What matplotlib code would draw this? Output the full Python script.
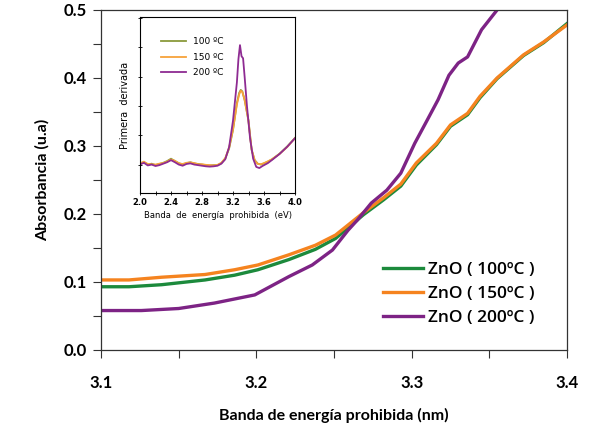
import matplotlib.pyplot as plt
from matplotlib.ticker import MultipleLocator

# main curves: absorbance vs band gap
x_100 = [3.100, 3.118, 3.139, 3.167, 3.186, 3.201, 3.221, 3.238, 3.251, 3.269, 3.282,
         3.293, 3.303, 3.316, 3.325, 3.336, 3.344, 3.355, 3.372, 3.385, 3.400]
a_100 = [0.093, 0.093, 0.096, 0.103, 0.110, 0.118, 0.133, 0.148, 0.164, 0.199, 0.221,
         0.241, 0.272, 0.302, 0.329, 0.346, 0.371, 0.399, 0.433, 0.452, 0.480]
x_150 = [3.100, 3.118, 3.139, 3.167, 3.186, 3.201, 3.221, 3.238, 3.251, 3.269, 3.282,
         3.293, 3.303, 3.316, 3.325, 3.336, 3.344, 3.355, 3.372, 3.385, 3.400]
a_150 = [0.103, 0.103, 0.107, 0.111, 0.118, 0.125, 0.140, 0.154, 0.169, 0.202, 0.224,
         0.244, 0.275, 0.304, 0.331, 0.348, 0.373, 0.400, 0.434, 0.453, 0.478]
x_200 = [3.100, 3.126, 3.150, 3.173, 3.199, 3.221, 3.236, 3.249, 3.259, 3.265, 3.274,
         3.284, 3.293, 3.302, 3.310, 3.317, 3.324, 3.330, 3.336, 3.345, 3.355]
a_200 = [0.058, 0.058, 0.061, 0.069, 0.081, 0.108, 0.125, 0.147, 0.176, 0.191, 0.216,
         0.235, 0.260, 0.304, 0.338, 0.368, 0.404, 0.422, 0.431, 0.471, 0.500]

# inset: first derivative
ix_low = [2.00, 2.05, 2.10, 2.15, 2.20, 2.25, 2.30, 2.35, 2.40, 2.45, 2.50, 2.55, 2.60,
          2.65, 2.70, 2.75, 2.80, 2.85, 2.90, 2.95, 3.00, 3.05, 3.10, 3.15, 3.20, 3.25,
          3.28, 3.30, 3.32, 3.35, 3.40, 3.44, 3.48, 3.52, 3.56, 3.60, 3.65, 3.70, 3.80,
          3.90, 4.00]
d_100 = [0.05, 0.08, 0.00, 0.03, -0.02, 0.02, 0.06, 0.12, 0.20, 0.12, 0.05, 0.00, 0.05,
         0.08, 0.04, 0.02, 0.00, -0.02, -0.03, -0.02, -0.02, 0.05, 0.20, 0.55, 1.18, 2.10,
         2.45, 2.55, 2.50, 2.20, 1.50, 0.50, 0.15, 0.03, 0.00, 0.04, 0.10, 0.17, 0.37,
         0.62, 0.91]
d_150 = [0.03, 0.10, 0.02, 0.01, 0.00, 0.03, 0.05, 0.10, 0.17, 0.13, 0.04, 0.02, 0.06,
         0.07, 0.05, 0.01, 0.01, -0.01, -0.02, -0.03, -0.01, 0.06, 0.22, 0.58, 1.20, 2.05,
         2.40, 2.52, 2.48, 2.22, 1.48, 0.52, 0.14, 0.02, 0.01, 0.05, 0.11, 0.18, 0.36,
         0.60, 0.90]
ix_200 = [2.00, 2.05, 2.10, 2.15, 2.20, 2.25, 2.30, 2.35, 2.40, 2.45, 2.50, 2.55, 2.60,
          2.65, 2.70, 2.75, 2.80, 2.85, 2.90, 2.95, 3.00, 3.05, 3.10, 3.15, 3.20, 3.25,
          3.27, 3.29, 3.31, 3.33, 3.35, 3.38, 3.42, 3.46, 3.50, 3.54, 3.58, 3.65, 3.70,
          3.80, 3.90, 4.00]
d_200 = [0.00, 0.06, -0.03, 0.00, -0.05, -0.02, 0.03, 0.08, 0.15, 0.08, 0.00, -0.04, 0.02,
         0.04, 0.00, -0.02, -0.04, -0.06, -0.07, -0.06, -0.04, 0.03, 0.18, 0.60, 1.50, 2.80,
         3.60, 4.08, 3.70, 3.63, 3.00, 2.00, 0.90, 0.20, -0.08, -0.12, -0.05, 0.05, 0.15,
         0.36, 0.61, 0.90]

bold_font = ['Lato', 'DejaVu Sans']

fig = plt.figure(figsize=(5.9, 4.25), dpi=100)
ax = fig.add_axes([0.1712, 0.1765, 0.7898, 0.8])

ax.plot(x_100, a_100, color='#1c8a3c', lw=2.4, label='ZnO ( 100ºC )')
ax.plot(x_150, a_150, color='#f5831f', lw=2.4, label='ZnO ( 150ºC )')
ax.plot(x_200, a_200, color='#7d2385', lw=2.4, label='ZnO ( 200ºC )')

ax.set_xlim(3.1, 3.4)
ax.set_ylim(0, 0.5)
ax.xaxis.set_major_locator(MultipleLocator(0.1))
ax.xaxis.set_minor_locator(MultipleLocator(0.05))
ax.yaxis.set_major_locator(MultipleLocator(0.1))
ax.yaxis.set_minor_locator(MultipleLocator(0.05))
ax.xaxis.set_major_formatter(lambda v, p: f'{v:.1f}')
ax.yaxis.set_major_formatter(lambda v, p: f'{v:.1f}')
ax.tick_params(which='both', direction='out', length=6, width=0.8, color='#333333')
ax.tick_params(axis='x', pad=12)
ax.tick_params(axis='y', pad=4)
for s in ax.spines.values():
    s.set_color('#333333')
    s.set_linewidth(0.9)
for lab in ax.get_xticklabels() + ax.get_yticklabels():
    lab.set_fontfamily(bold_font)
    lab.set_fontweight('bold')
    lab.set_fontsize(12)
ax.set_xlabel('Banda de energía prohibida (nm)', family=bold_font, fontweight='bold',
              fontsize=11.5, labelpad=12)
ax.set_ylabel('Absorbancia (u.a)', family=bold_font, fontweight='bold', fontsize=11.5,
              labelpad=10)

leg = ax.legend(loc='lower right', bbox_to_anchor=(0.965, 0.025), frameon=False,
                handlelength=2.3, handletextpad=0.3, labelspacing=0.45,
                prop={'family': ['Open Sans', 'DejaVu Sans'], 'size': 12.5, 'weight': 'semibold'})

# inset
ins = fig.add_axes([0.2373, 0.546, 0.2627, 0.414])
ins.plot(ix_low, d_100, color='#8a9a3c', lw=1.3, label='100 ºC')
ins.plot(ix_low, d_150, color='#f7a33a', lw=1.3, label='150 ºC')
ins.plot(ix_200, d_200, color='#8e2b92', lw=1.3, label='200 ºC')
ins.set_xlim(2.0, 4.0)
ins.set_ylim(-0.97, 5.04)
ins.xaxis.set_major_locator(MultipleLocator(0.4))
ins.xaxis.set_minor_locator(MultipleLocator(0.2))
ins.yaxis.set_major_locator(MultipleLocator(1))
ins.set_yticklabels([])
ins.xaxis.set_major_formatter(lambda v, p: f'{v:.1f}')
ins.tick_params(which='both', direction='inout', length=3, width=0.6, labelsize=6, pad=2)
for lab in ins.get_xticklabels():
    lab.set_fontweight('bold')
for s in ins.spines.values():
    s.set_linewidth(0.8)
ins.set_xlabel('Banda  de  energía  prohibida  (eV)', fontsize=6, labelpad=3)
ins.set_ylabel('Primera  derivada', fontsize=7, labelpad=4)
ins.legend(loc='upper left', bbox_to_anchor=(0.08, 0.93), frameon=False, fontsize=6.5,
           handlelength=2.8, handletextpad=0.8, labelspacing=0.7)

fig.savefig('out.png', dpi=100)
